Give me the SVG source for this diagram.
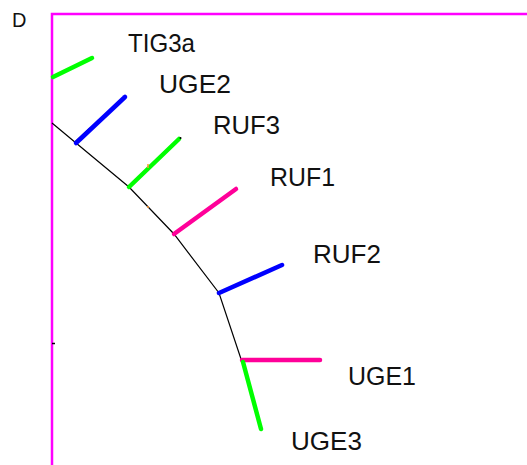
<svg xmlns="http://www.w3.org/2000/svg" width="527" height="465" viewBox="0 0 527 465">
<style>
.frame{stroke:#FF00FF;stroke-width:2.5;fill:none}
.tree{stroke:#000;stroke-width:1.2;fill:none}
.br{stroke-width:4.5;stroke-linecap:round;fill:none}
.g{stroke:#00FF00}.b{stroke:#0000FF}.p{stroke:#FF0099}
.lbl{font-family:"Liberation Sans",Arial,sans-serif;font-size:26px;fill:#111}
</style>
<rect width="527" height="465" fill="#fff"/>
<text x="12" y="27" font-family="Liberation Sans, Arial, sans-serif" font-size="20" fill="#111">D</text>
<path class="frame" d="M52,465 V14 H527"/>
<line x1="52" y1="343.5" x2="55" y2="343.5" stroke="#000" stroke-width="1.5"/>
<g id="connectors">
<polyline class="tree" points="52,123 76,143 129,187 174,234 219,293 241,359"/>
<line class="tree" x1="75" y1="142" x2="90" y2="128"/>
</g>
<g id="TIG3a"><line class="br g" x1="53" y1="77" x2="92" y2="58"/><text class="lbl" x="128" y="52" textLength="67" lengthAdjust="spacingAndGlyphs">TIG3a</text></g>
<g id="UGE2"><line class="br b" x1="76" y1="143" x2="125" y2="97"/><text class="lbl" x="159" y="93" textLength="72" lengthAdjust="spacingAndGlyphs">UGE2</text></g>
<g id="RUF3"><line class="br g" x1="129" y1="187" x2="179" y2="139"/><circle cx="180.5" cy="138" r="1" fill="#000"/><line x1="148" y1="164" x2="148" y2="168" stroke="#FF9933" stroke-width="1.5"/><line x1="148" y1="206" x2="148" y2="208" stroke="#FF9933" stroke-width="1.5"/><text class="lbl" x="213" y="134" textLength="67" lengthAdjust="spacingAndGlyphs">RUF3</text></g>
<g id="RUF1"><line class="br p" x1="174" y1="234" x2="236" y2="189"/><text class="lbl" x="270" y="186" textLength="65" lengthAdjust="spacingAndGlyphs">RUF1</text></g>
<g id="RUF2"><line class="br b" x1="219" y1="293" x2="282" y2="265"/><text class="lbl" x="313" y="263" textLength="68" lengthAdjust="spacingAndGlyphs">RUF2</text></g>
<g id="UGE1"><line class="br p" x1="242" y1="360" x2="320" y2="360"/><text class="lbl" x="348" y="385" textLength="68" lengthAdjust="spacingAndGlyphs">UGE1</text></g>
<g id="UGE3"><line class="br g" x1="243" y1="362" x2="261" y2="429"/><text class="lbl" x="291" y="450" textLength="71" lengthAdjust="spacingAndGlyphs">UGE3</text></g>
</svg>
